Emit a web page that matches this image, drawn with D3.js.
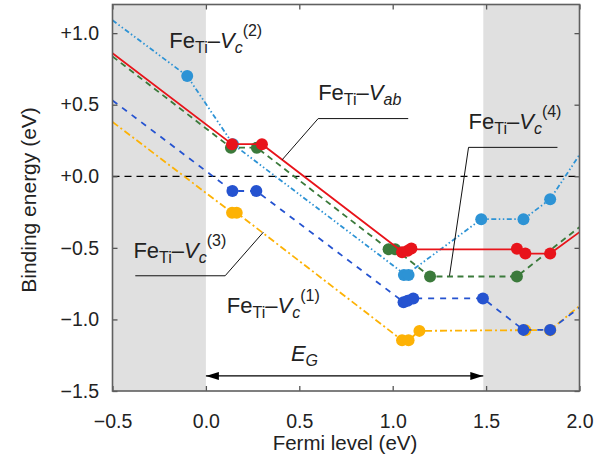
<!DOCTYPE html>
<html>
<head>
<meta charset="utf-8">
<script src="https://cdn.jsdelivr.net/npm/d3@7"></script>
<style>
body { margin: 0; background: #fff; }
svg text { font-family: "Liberation Sans", Arial, sans-serif; fill: #222; }
</style>
</head>
<body>
<svg id="chart" width="608" height="458"></svg>
<script>
// tick values and labels
var xTicks = [-0.5, 0, 0.5, 1, 1.5, 2];
var xTickLabels = ["\u22120.5", "0.0", "0.5", "1.0", "1.5", "2.0"];
var yTicks = [1, 0.5, 0, -0.5, -1, -1.5];
var yTickLabels = ["+1.0", "+0.5", "+0.0", "\u22120.5", "\u22121.0", "\u22121.5"];

var bandGap = 1.485;

// Fe_Ti-V_c(2), light blue
var vc2X = [-0.5, -0.10, 0.145, 1.07, 1.474, 1.70, 1.843, 2.0];
var vc2Y = [1.09, 0.70, 0.224, -0.69, -0.30, -0.30, -0.16, 0.15];
var vc2MarkX = [-0.10, 0.145, 1.06, 1.085, 1.474, 1.70, 1.843];
var vc2MarkY = [0.70, 0.224, -0.69, -0.69, -0.30, -0.30, -0.16];

// Fe_Ti-V_ab, red
var vabX = [-0.5, 0.14, 0.30, 1.05, 1.10, 1.665, 1.71, 1.843, 2.0];
var vabY = [0.86, 0.224, 0.224, -0.525, -0.51, -0.51, -0.54, -0.54, -0.39];
var vabMarkX = [0.14, 0.30, 1.05, 1.08, 1.10, 1.665, 1.71, 1.843];
var vabMarkY = [0.224, 0.224, -0.53, -0.52, -0.505, -0.507, -0.54, -0.54];

// Fe_Ti-V_c(4), green
var vc4X = [-0.5, 0.134, 0.273, 0.978, 1.013, 1.20, 1.665, 2.0];
var vc4Y = [0.837, 0.20, 0.20, -0.51, -0.51, -0.70, -0.70, -0.355];
var vc4MarkX = [0.134, 0.273, 0.978, 1.013, 1.20, 1.665];
var vc4MarkY = [0.20, 0.20, -0.51, -0.51, -0.70, -0.70];

// Fe_Ti-V_c(1), blue
var vc1X = [-0.5, 0.142, 0.27, 1.06, 1.11, 1.483, 1.70, 1.843, 2.0];
var vc1Y = [0.53, -0.103, -0.103, -0.88, -0.853, -0.853, -1.073, -1.073, -0.917];
var vc1MarkX = [0.142, 0.27, 1.058, 1.08, 1.11, 1.483, 1.70, 1.843];
var vc1MarkY = [-0.103, -0.103, -0.88, -0.87, -0.853, -0.853, -1.073, -1.073];

// Fe_Ti-V_c(3), yellow
var vc3X = [-0.5, 0.14, 0.165, 1.05, 1.085, 1.143, 1.71, 1.843, 2.0];
var vc3Y = [0.38, -0.255, -0.255, -1.145, -1.145, -1.08, -1.075, -1.075, -0.905];
var vc3MarkX = [0.14, 0.165, 1.05, 1.085, 1.143, 1.71, 1.843];
var vc3MarkY = [-0.255, -0.255, -1.145, -1.145, -1.08, -1.075, -1.075];

var svg = d3.select("#chart");
var plotLeft = 112.5, plotRight = 579.5, plotTop = 4.5, plotBottom = 391;

var x = d3.scaleLinear().domain([-0.5, 2.0]).range([plotLeft, plotRight]);
var y = d3.scaleLinear().domain([-1.5, 1.2]).range([plotBottom, plotTop]);

// shaded regions outside the gap
svg.append("rect")
    .attr("x", x(-0.5)).attr("y", plotTop)
    .attr("width", x(0) - x(-0.5)).attr("height", plotBottom - plotTop)
    .attr("fill", "#e0e0e0");
svg.append("rect")
    .attr("x", x(bandGap)).attr("y", plotTop)
    .attr("width", x(2.0) - x(bandGap)).attr("height", plotBottom - plotTop)
    .attr("fill", "#e0e0e0");

var defs = svg.append("defs");
defs.append("clipPath").attr("id", "plotclip")
    .append("rect").attr("x", plotLeft).attr("y", plotTop)
    .attr("width", plotRight - plotLeft).attr("height", plotBottom - plotTop);

// zero line
svg.append("line")
    .attr("x1", x(-0.5)).attr("x2", x(2.0))
    .attr("y1", y(0)).attr("y2", y(0))
    .attr("stroke", "#000").attr("stroke-width", 1.2)
    .attr("stroke-dasharray", "7,5");

var line = d3.line()
    .x(function(d) { return x(d[0]); })
    .y(function(d) { return y(d[1]); });

function drawSeries(xs, ys, mx, my, color, dash) {
    var pts = xs.map(function(d, i) { return [d, ys[i]]; });
    var g = svg.append("g").attr("clip-path", "url(#plotclip)");
    g.append("path")
        .attr("d", line(pts))
        .attr("fill", "none")
        .attr("stroke", color)
        .attr("stroke-width", 1.8)
        .attr("stroke-dasharray", dash);
    var marks = mx.map(function(d, i) { return [d, my[i]]; });
    g.selectAll("circle")
        .data(marks)
        .enter().append("circle")
        .attr("cx", function(d) { return x(d[0]); })
        .attr("cy", function(d) { return y(d[1]); })
        .attr("r", 6)
        .attr("fill", color);
}

drawSeries(vc3X, vc3Y, vc3MarkX, vc3MarkY, "#fdb205", "7,3,2,3");
drawSeries(vc1X, vc1Y, vc1MarkX, vc1MarkY, "#2553d0", "6,6");
drawSeries(vc2X, vc2Y, vc2MarkX, vc2MarkY, "#2d93d5", "5,2.5,1.5,2.5,1.5,2.5");
drawSeries(vc4X, vc4Y, vc4MarkX, vc4MarkY, "#3b7a3b", "6,4.5");
drawSeries(vabX, vabY, vabMarkX, vabMarkY, "#e8141b", null);

// leader lines
var leaders = [
    [[0.408, 0.115], [0.601, 0.403], [1.083, 0.403]],
    [[1.304, -0.695], [1.406, 0.202], [1.882, 0.202]],
    [[0.308, -0.39], [0.103, -0.695], [-0.378, -0.695]]
];
leaders.forEach(function(p) {
    svg.append("path")
        .attr("d", line(p))
        .attr("fill", "none")
        .attr("stroke", "#111")
        .attr("stroke-width", 1);
});

// labels
function feLabel(lx, ly, sub, sup) {
    var t = svg.append("text")
        .attr("x", x(lx)).attr("y", y(ly))
        .style("font-size", "22px");
    t.append("tspan").text("Fe");
    t.append("tspan").attr("dy", 5).style("font-size", "16px").text("Ti");
    t.append("tspan").attr("dy", -5).text("\u2013");
    t.append("tspan").style("font-style", "italic").text("V");
    t.append("tspan").attr("dy", 5).style("font-size", "16px")
        .style("font-style", "italic").text(sub);
    if (sup) {
        t.append("tspan").attr("dy", -17).style("font-size", "16px").text(sup);
    }
}
feLabel(-0.196, 0.897, "c", "(2)");
feLabel(0.601, 0.536, "ab", null);
feLabel(1.406, 0.333, "c", "(4)");
feLabel(-0.388, -0.569, "c", "(3)");
feLabel(0.112, -0.955, "c", "(1)");

var eg = svg.append("text")
    .attr("x", x(0.455)).attr("y", y(-1.29))
    .style("font-size", "22px").style("font-style", "italic");
eg.append("tspan").text("E");
eg.append("tspan").attr("dy", 5).style("font-size", "16px").text("G");

// band gap arrow
defs.append("marker").attr("id", "ahead")
    .attr("viewBox", "0 0 13 8").attr("refX", 13).attr("refY", 4)
    .attr("markerWidth", 13).attr("markerHeight", 8)
    .attr("markerUnits", "userSpaceOnUse")
    .attr("orient", "auto-start-reverse")
    .append("path").attr("d", "M0,0L13,4L0,8Z").attr("fill", "#000");
svg.append("line")
    .attr("x1", x(0)).attr("x2", x(bandGap))
    .attr("y1", y(-1.395)).attr("y2", y(-1.395))
    .attr("stroke", "#000").attr("stroke-width", 1.2)
    .attr("marker-start", "url(#ahead)")
    .attr("marker-end", "url(#ahead)");

// axes
var xAxis = d3.axisBottom(x).tickValues(xTicks)
    .tickFormat(function(d, i) { return xTickLabels[i]; })
    .tickSizeInner(-5).tickSizeOuter(0).tickPadding(23.5);
var yAxis = d3.axisLeft(y).tickValues(yTicks)
    .tickFormat(function(d, i) { return yTickLabels[i]; })
    .tickSizeInner(-5).tickSizeOuter(0).tickPadding(13.5);

var gx = svg.append("g").attr("transform", "translate(0," + plotBottom + ")").call(xAxis);
var gy = svg.append("g").attr("transform", "translate(" + plotLeft + ",0)").call(yAxis);
var gxt = svg.append("g").attr("transform", "translate(0," + plotTop + ")")
    .call(d3.axisTop(x).tickValues(xTicks).tickFormat("").tickSizeInner(-5).tickSizeOuter(0));
var gyr = svg.append("g").attr("transform", "translate(" + plotRight + ",0)")
    .call(d3.axisRight(y).tickValues(yTicks).tickFormat("").tickSizeInner(-5).tickSizeOuter(0));

[gx, gy, gxt, gyr].forEach(function(g) {
    g.select(".domain").remove();
    g.selectAll(".tick line").attr("stroke", "#555").attr("stroke-width", 1.3);
    g.selectAll(".tick text")
        .style("font-family", "'Liberation Sans', Arial, sans-serif")
        .style("font-size", "19.5px").attr("fill", "#222");
});

svg.append("rect")
    .attr("x", plotLeft).attr("y", plotTop)
    .attr("width", plotRight - plotLeft).attr("height", plotBottom - plotTop)
    .attr("fill", "none").attr("stroke", "#606060").attr("stroke-width", 1.6);

// axis titles
svg.append("text")
    .attr("x", (plotLeft + plotRight) / 2 - 1).attr("y", 450)
    .attr("text-anchor", "middle")
    .style("font-size", "20.5px")
    .text("Fermi level (eV)");
svg.append("text")
    .attr("transform", "translate(36,200) rotate(-90)")
    .attr("text-anchor", "middle")
    .style("font-size", "21px")
    .text("Binding energy (eV)");
</script>
</body>
</html>
